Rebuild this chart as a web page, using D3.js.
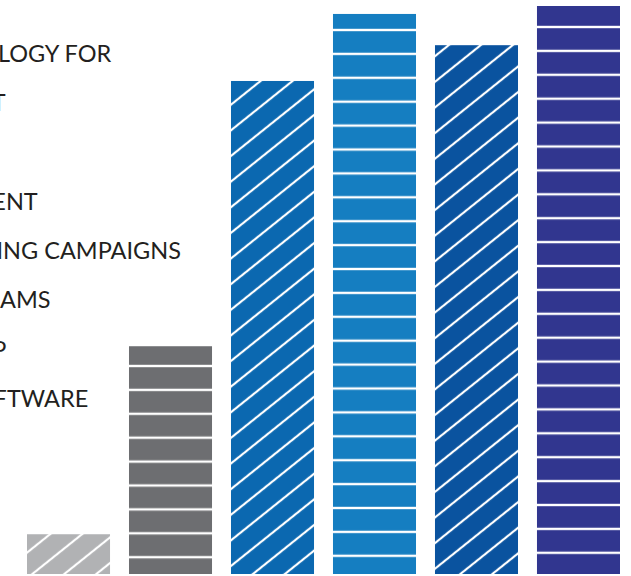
<!DOCTYPE html>
<html>
<head>
<meta charset="utf-8">
<script src="https://cdn.jsdelivr.net/npm/d3@7"></script>
<style>
  html, body { margin: 0; padding: 0; background: #ffffff; overflow: hidden; }
  svg { display: block; }
</style>
</head>
<body>
<div id="chart"></div>
<script>
// ---- data ----
const categories = ["Bar 1", "Bar 2", "Bar 3", "Bar 4", "Bar 5", "Bar 6"];
const values = [7, 40.1, 86.8, 98.6, 93.1, 100];
const legendLabels = [
  "TECHNOLOGY FOR",
  "SUPPORT",
  "CLOUD",
  "EQUIPMENT",
  "RECRUITING CAMPAIGNS",
  "SALES TEAMS",
  "DESKTOP",
  "NEW SOFTWARE"
];

// ---- styles ----
const barColors = ["#b1b2b4", "#6d6e71", "#0b68b0", "#157ec1", "#0a539f", "#31368f"];
const barPatterns = ["diag", "horiz", "diag", "horiz", "diag", "horiz"];
const stripeOffsets = [18.2, 7.5, 16.1, 6.1, 5.8, 3.1];
const hatchAngle = 38.7;

const W = 631, H = 576;
const svg = d3.select("#chart").append("svg")
  .attr("width", W).attr("height", H);

const defs = svg.append("defs");
barColors.forEach((c, i) => {
  if (barPatterns[i] === "diag") {
    const p = defs.append("pattern")
      .attr("id", "pat" + i)
      .attr("patternUnits", "userSpaceOnUse")
      .attr("width", 20).attr("height", 20)
      .attr("patternTransform", `rotate(${-hatchAngle}) translate(0, ${stripeOffsets[i]})`);
    p.append("rect").attr("width", 20).attr("height", 20).attr("fill", c);
    p.append("line").attr("x1", -1).attr("x2", 21).attr("y1", 10).attr("y2", 10)
      .attr("stroke", "#ffffff").attr("stroke-width", 2.2);
  } else {
    const p = defs.append("pattern")
      .attr("id", "pat" + i)
      .attr("patternUnits", "userSpaceOnUse")
      .attr("width", 20).attr("height", 23.9)
      .attr("patternTransform", `translate(0, ${stripeOffsets[i]})`);
    p.append("rect").attr("width", 20).attr("height", 23.9).attr("fill", c);
    p.append("line").attr("x1", -1).attr("x2", 21).attr("y1", 0).attr("y2", 0)
      .attr("stroke", "#ffffff").attr("stroke-width", 2.4);
    p.append("line").attr("x1", -1).attr("x2", 21).attr("y1", 23.9).attr("y2", 23.9)
      .attr("stroke", "#ffffff").attr("stroke-width", 2.4);
  }
});

const x = d3.scaleBand()
  .domain(categories)
  .range([27, 620])
  .paddingInner(0.186)
  .paddingOuter(0);

const y = d3.scaleLinear()
  .domain([0, 100])
  .range([574, 6]);

svg.append("g")
  .selectAll("rect")
  .data(values)
  .join("rect")
  .attr("x", (d, i) => x(categories[i]))
  .attr("y", d => y(d))
  .attr("width", x.bandwidth())
  .attr("height", d => y(0) - y(d))
  .attr("fill", (d, i) => `url(#pat${i})`);

// legend / labels (partially outside the left edge, as in the reference)
const rowY = d3.scaleLinear().domain([0, legendLabels.length - 1]).range([62, 407]);
svg.append("g")
  .selectAll("text")
  .data(legendLabels)
  .join("text")
  .attr("x", -99.5)
  .attr("y", (d, i) => rowY(i))
  .attr("font-family", "Lato, 'Open Sans', sans-serif")
  .attr("font-size", 23.5)
  .attr("fill", "#231f20")
  .text(d => d);
</script>
</body>
</html>
